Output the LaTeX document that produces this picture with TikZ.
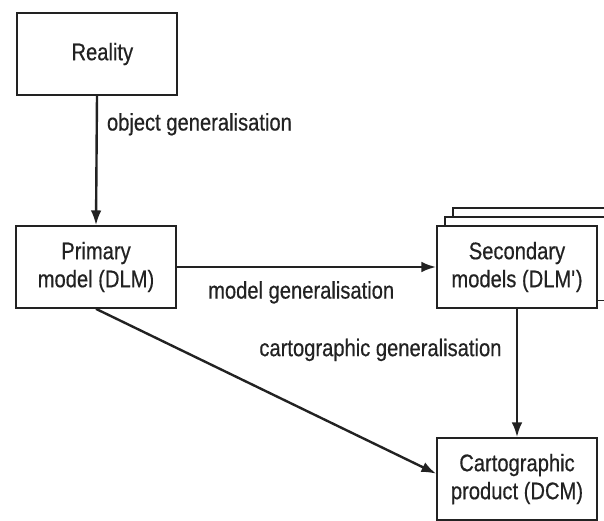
\documentclass[tikz,border=0pt]{standalone}
\usepackage{fontspec}
\setmainfont{Liberation Sans}[FakeStretch=0.84,FakeBold=0.5]
\usetikzlibrary{arrows.meta,backgrounds}

\definecolor{inkgrey}{HTML}{222222}

\tikzset{every picture/.style={line width=0.75pt}}
\tikzset{
  genbox/.style={draw=inkgrey, line width=1.3pt, fill=white, minimum width=120pt, minimum height=61.5pt,
    align=center, inner sep=0.75pt, text=inkgrey, font=\fontsize{18}{21}\selectfont},
  genarrow/.style={draw=inkgrey, line width=1.8pt, -{Latex[length=11pt,width=8pt]}},
  genlabel/.style={inner sep=0.75pt, text=inkgrey, font=\fontsize{18}{21}\selectfont}
}

\begin{document}
\begin{tikzpicture}[x=0.75pt,y=0.75pt,yscale=-1,xscale=1]
	\useasboundingbox (0,0) rectangle (604,521);
	
	%Shape: Rectangle [id:reality] 
	\node [genbox] (reality) at (97,54) {\hspace*{8pt}Reality};
	%Shape: Rectangle [id:primary] 
	\node [genbox] (primary) at (96,267) {Primary\\model (DLM)};
	%Shape: Rectangle [id:secondary] 
	\node [genbox] (secondary) at (517,267) {Secondary\\models (DLM\textquotesingle)};
	%Shape: Rectangle [id:cartoProd] 
	\node [genbox] (cartoProd) at (517,479) {Cartographic\\product (DCM)};
	
	%Shape: Stacked copies behind secondary 
	\begin{scope}[on background layer]
		\clip (0,0) rectangle (604,521);
		\draw [draw=inkgrey, line width=1.3pt, fill=white] ([shift={(17,-17)}]secondary.south west) rectangle ([shift={(17,-17)}]secondary.north east);
		\draw [draw=inkgrey, line width=1.3pt, fill=white] ([shift={(8.5,-8.5)}]secondary.south west) rectangle ([shift={(8.5,-8.5)}]secondary.north east);
	\end{scope}
	
	%Straight Lines [id:objgen] 
	\draw [genarrow] (reality.south) -- node [genlabel, pos=0.22, right=6pt] {object generalisation} (primary.north);
	%Straight Lines [id:modgen] 
	\draw [genarrow] (primary.east) -- node [genlabel, below=9pt, xshift=-4pt] {model generalisation} (secondary.west);
	%Straight Lines [id:cartgen] 
	\draw [genarrow] (secondary.south) -- node [genlabel, pos=0.32, left=10pt] {cartographic generalisation} (cartoProd.north);
	%Straight Lines [id:direct] 
	\draw [genarrow] (primary.south) -- ([yshift=-4pt]cartoProd.west);
	
\end{tikzpicture}
\end{document}
